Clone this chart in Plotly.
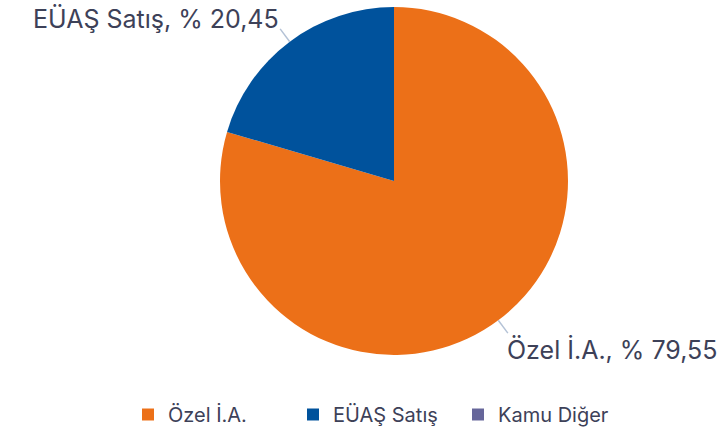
import math
import plotly.graph_objects as go

labels = ['Özel İ.A.', 'EÜAŞ Satış', 'Kamu Diğer']
values = [79.55, 20.45, 0.0]
value_text = ['% 79,55', '% 20,45', '']
colors = ['#EC7018', '#00529C', '#66669A']

text_color = '#3D4158'
line_color = '#B4C2D6'
font_family = 'Inter, "Open Sans", sans-serif'

W, H = 723, 431
margin = dict(l=0, r=0, t=7, b=76)
plot_w = W - margin['l'] - margin['r']
plot_h = H - margin['t'] - margin['b']
radius = plot_h / 2
cx = 394 / W
cy = 0.5

fig = go.Figure(go.Pie(
    labels=labels,
    values=values,
    textinfo='none',
    marker=dict(colors=colors, line=dict(width=0)),
    sort=False,
    direction='clockwise',
    rotation=0,
    domain=dict(x=[cx - radius / plot_w, cx + radius / plot_w], y=[0, 1]),
    automargin=False,
    showlegend=True,
))

# leader lines + outside labels at each slice's mid angle
total = sum(values)
cum = 0
for lab, val, vt in zip(labels, values, value_text):
    if val == 0:
        continue
    mid = (cum + val / 2) / total * 2 * math.pi
    cum += val
    sx, sy = math.sin(mid), math.cos(mid)
    x0 = cx + radius * sx / plot_w
    y0 = cy + radius * sy / plot_h
    x1 = cx + (radius + 16) * sx / plot_w
    y1 = cy + (radius + 16) * sy / plot_h
    fig.add_shape(type='line', xref='paper', yref='paper', x0=x0, y0=y0, x1=x1, y1=y1,
                  line=dict(color=line_color, width=1.5))
    fig.add_annotation(
        x=x1, y=y1, xref='paper', yref='paper',
        text=f'{lab}, {vt}', showarrow=False,
        xanchor='left' if sx > 0 else 'right',
        yanchor='middle',
        font=dict(size=25, color=text_color, family=font_family),
        xshift=-3 if sx > 0 else 1,
        yshift=10 if sy > 0 else -16,
    )

fig.update_layout(
    width=W,
    height=H,
    margin=margin,
    paper_bgcolor='white',
    plot_bgcolor='white',
    font=dict(family=font_family, color=text_color),
    legend=dict(
        orientation='h',
        x=128 / W, xanchor='left', xref='container',
        y=1 - 395 / H, yanchor='top', yref='container',
        font=dict(size=20, color=text_color),
        entrywidth=120,
        traceorder='normal',
    ),
)

fig.write_html('out.html', config={'displayModeBar': False},
               post_script="document.body.style.margin='0';")
